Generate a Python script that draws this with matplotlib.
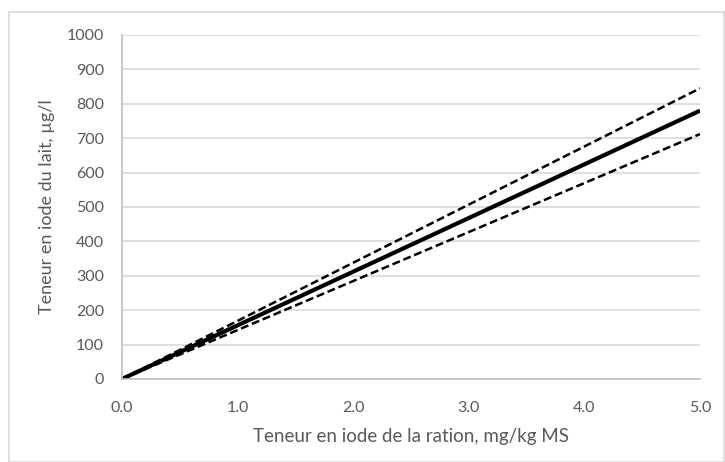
import matplotlib
matplotlib.use("Agg")
import matplotlib.pyplot as plt
from matplotlib.patches import Rectangle

# data
x_vals = [0.0, 5.0]
milk_mean = [0.0, 780.0]
milk_upper = [0.0, 845.0]
milk_lower = [0.0, 712.0]
x_ticks = [0.0, 1.0, 2.0, 3.0, 4.0, 5.0]
y_ticks = list(range(0, 1001, 100))

plt.rcParams['font.family'] = ['Lato', 'DejaVu Sans']
text_col = '#595959'

fig = plt.figure(figsize=(7.25, 4.62), dpi=100)
W, H = 725, 462

# outer chart border (Excel-like)
fig.patches.append(Rectangle((9 / W, 0), (W - 9) / W - 0.002, (H - 12) / H,
                             transform=fig.transFigure, fill=False,
                             edgecolor='#d9d9d9', linewidth=1.2))

ax = fig.add_axes([122 / W, 1 - 379 / H, (700 - 122) / W, (379 - 35) / H])

ax.plot(x_vals, milk_upper, color='black', linewidth=1.8, linestyle=(0, (3.2, 1.5)))
ax.plot(x_vals, milk_lower, color='black', linewidth=1.8, linestyle=(0, (3.2, 1.5)))
ax.plot(x_vals, milk_mean, color='black', linewidth=3.0, solid_capstyle='butt')

ax.set_xlim(0, 5)
ax.set_ylim(0, 1000)
ax.set_xticks(x_ticks)
ax.set_xticklabels([f'{v:.1f}' for v in x_ticks])
ax.set_yticks(y_ticks)
ax.grid(True, axis='y', color='#d9d9d9', linewidth=1.2)
ax.set_axisbelow(True)

for s in ['top', 'right']:
    ax.spines[s].set_visible(False)
for s in ['left', 'bottom']:
    ax.spines[s].set_color('#bfbfbf')
    ax.spines[s].set_linewidth(1.2)
ax.tick_params(axis='both', length=0, labelsize=11.5, colors=text_col)
ax.tick_params(axis='x', pad=16)
ax.tick_params(axis='y', pad=13)

ax.set_xlabel('Teneur en iode de la ration, mg/kg MS', fontsize=13.5, color=text_col, labelpad=9)
ax.set_ylabel('Teneur en iode du lait, µg/l', fontsize=13, color=text_col, labelpad=8)

fig.savefig('out.png', dpi=100)
